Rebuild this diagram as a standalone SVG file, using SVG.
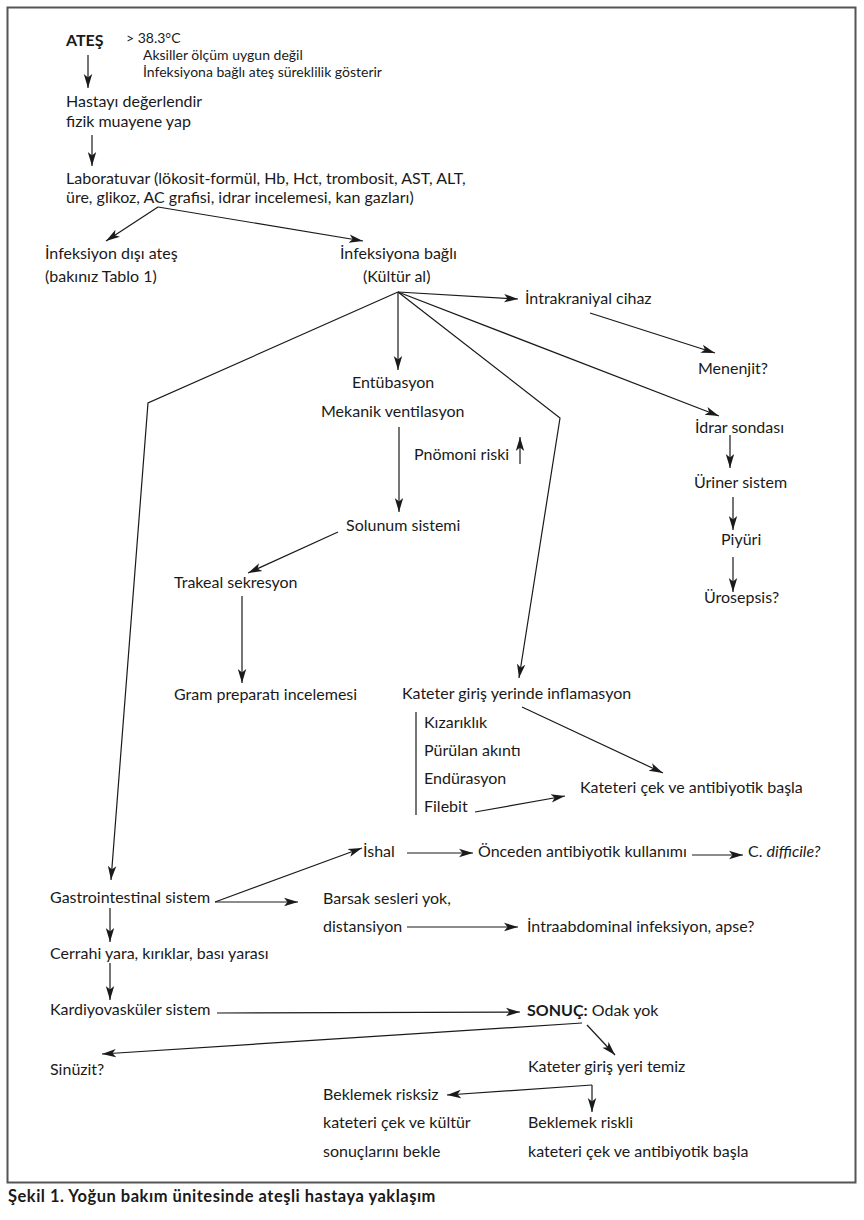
<svg xmlns="http://www.w3.org/2000/svg" width="864" height="1220" viewBox="0 0 864 1220">
<style>
text{font-family:Lato,"Liberation Sans",sans-serif;font-size:16px;fill:#1a1a1a}
.s{font-size:14px}
.b{font-weight:bold}
.cap{font-weight:bold;font-size:16.5px;letter-spacing:0.5px}
.c line,.c polyline{stroke:#1a1a1a;stroke-width:1.2;fill:none}
.a{marker-end:url(#ah)}
</style>
<defs>
<marker id="ah" markerWidth="15" markerHeight="10" refX="14" refY="5" orient="auto" markerUnits="userSpaceOnUse">
<path d="M0,0.8 L14,5 L0,9.2 L3.5,5 z" fill="#1a1a1a"/>
</marker>
</defs>
<rect x="7.5" y="7.5" width="848" height="1175" fill="#fff" stroke="#555" stroke-width="2"/>

<g id="ates"><text x="66" y="46" class="b">ATEŞ</text><text x="126" y="43" class="s">&gt; 38.3°C</text><text x="143" y="60" class="s">Aksiller ölçüm uygun değil</text><text x="143" y="77" class="s">İnfeksiyona bağlı ateş süreklilik gösterir</text></g>
<g id="hasta"><text x="66" y="107">Hastayı değerlendir</text><text x="66" y="127">fizik muayene yap</text></g>
<g id="lab"><text x="66" y="184">Laboratuvar (lökosit-formül, Hb, Hct, trombosit, AST, ALT,</text><text x="66" y="203">üre, glikoz, AC grafisi, idrar incelemesi, kan gazları)</text></g>
<g id="infdisi"><text x="45" y="259">İnfeksiyon dışı ateş</text><text x="45" y="282">(bakınız Tablo 1)</text></g>
<g id="infbagli"><text x="340" y="259">İnfeksiyona bağlı</text><text x="363" y="282">(Kültür al)</text></g>
<g id="intrakraniyal"><text x="525" y="304">İntrakraniyal cihaz</text></g>
<g id="menenjit"><text x="698" y="374">Menenjit?</text></g>
<g id="entubasyon"><text x="352" y="388">Entübasyon</text><text x="321" y="417">Mekanik ventilasyon</text></g>
<g id="pnomoni"><text x="414" y="460">Pnömoni riski</text></g>
<g id="idrar"><text x="695" y="433">İdrar sondası</text></g>
<g id="uriner"><text x="694" y="488">Üriner sistem</text></g>
<g id="piyuri"><text x="721" y="545">Piyüri</text></g>
<g id="urosepsis"><text x="704" y="603">Ürosepsis?</text></g>
<g id="solunum"><text x="346" y="531">Solunum sistemi</text></g>
<g id="trakeal"><text x="174" y="588">Trakeal sekresyon</text></g>
<g id="gram"><text x="174" y="700">Gram preparatı incelemesi</text></g>
<g id="kateterinf"><text x="402" y="699">Kateter giriş yerinde inflamasyon</text>
<text x="424" y="728">Kızarıklık</text><text x="424" y="756">Pürülan akıntı</text><text x="424" y="784">Endürasyon</text><text x="424" y="812">Filebit</text></g>
<g id="katetericek1"><text x="580" y="793">Kateteri çek ve antibiyotik başla</text></g>
<g id="ishal"><text x="363" y="857">İshal</text></g>
<g id="onceden"><text x="478" y="857">Önceden antibiyotik kullanımı</text></g>
<g id="cdiff"><text x="748" y="857">C. <tspan font-style="italic">difficile?</tspan></text></g>
<g id="gi"><text x="50" y="903">Gastrointestinal sistem</text></g>
<g id="barsak"><text x="323" y="904">Barsak sesleri yok,</text><text x="323" y="932">distansiyon</text></g>
<g id="intraabd"><text x="527" y="932">İntraabdominal infeksiyon, apse?</text></g>
<g id="cerrahi"><text x="50" y="959">Cerrahi yara, kırıklar, bası yarası</text></g>
<g id="kardiyo"><text x="50" y="1015">Kardiyovasküler sistem</text></g>
<g id="sonuc"><text x="527" y="1016"><tspan class="b">SONUÇ:</tspan> Odak yok</text></g>
<g id="sinuzit"><text x="50" y="1075">Sinüzit?</text></g>
<g id="temiz"><text x="528" y="1072">Kateter giriş yeri temiz</text></g>
<g id="risksiz"><text x="323" y="1100">Beklemek risksiz</text><text x="323" y="1128">kateteri çek ve kültür</text><text x="323" y="1157">sonuçlarını bekle</text></g>
<g id="riskli"><text x="528" y="1128">Beklemek riskli</text><text x="528" y="1157">kateteri çek ve antibiyotik başla</text></g>

<g id="connectors" class="c">
<line class="a" x1="88" y1="55" x2="88" y2="88"/>
<line class="a" x1="92" y1="135" x2="92" y2="166"/>
<line class="a" x1="158" y1="207" x2="106" y2="241"/>
<line class="a" x1="158" y1="207" x2="363" y2="241"/>
<line class="a" x1="398" y1="292" x2="518" y2="299"/>
<line class="a" x1="590" y1="313" x2="715" y2="353"/>
<line class="a" x1="398" y1="292" x2="398" y2="370"/>
<line class="a" x1="398" y1="292" x2="719" y2="416"/>
<polyline class="a" points="398,292 560,418 519,678"/>
<polyline class="a" points="398,292 148,403 111,880"/>
<line class="a" x1="520" y1="464" x2="520" y2="437"/>
<line class="a" x1="399" y1="427" x2="399" y2="512"/>
<line class="a" x1="338" y1="532" x2="248" y2="573"/>
<line class="a" x1="242" y1="596" x2="242" y2="683"/>
<line class="a" x1="730" y1="435" x2="730" y2="468"/>
<line class="a" x1="733" y1="497" x2="733" y2="530"/>
<line class="a" x1="733" y1="557" x2="733" y2="592"/>
<line x1="416" y1="712" x2="416" y2="815"/>
<line class="a" x1="522" y1="707" x2="663" y2="773"/>
<line class="a" x1="475" y1="812" x2="565" y2="796"/>
<line class="a" x1="215" y1="902" x2="362" y2="848"/>
<line class="a" x1="215" y1="902" x2="298" y2="902"/>
<line class="a" x1="407" y1="853" x2="473" y2="853"/>
<line class="a" x1="692" y1="855" x2="743" y2="855"/>
<line class="a" x1="407" y1="927" x2="518" y2="927"/>
<line class="a" x1="110" y1="908" x2="110" y2="942"/>
<line class="a" x1="110" y1="963" x2="110" y2="1000"/>
<line class="a" x1="217" y1="1013" x2="520" y2="1012"/>
<line class="a" x1="582" y1="1023" x2="102" y2="1054"/>
<line class="a" x1="587" y1="1025" x2="615" y2="1055"/>
<line class="a" x1="592" y1="1085" x2="592" y2="1112"/>
<line class="a" x1="592" y1="1085" x2="447" y2="1095"/>
</g>
<text x="8" y="1202" class="cap">Şekil 1. Yoğun bakım ünitesinde ateşli hastaya yaklaşım</text>
</svg>
